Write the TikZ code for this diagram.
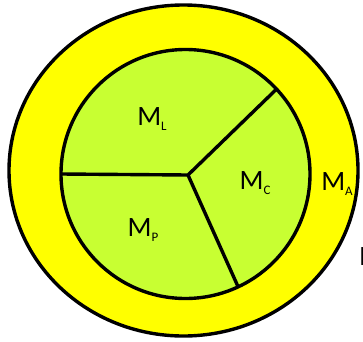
\documentclass[tikz,border=0pt]{standalone}
\usepackage{fontspec}
\setmainfont{Carlito}
\usetikzlibrary{calc}
\definecolor{ringyellow}{RGB}{255,255,0}
\definecolor{corelime}{RGB}{200,255,50}
\newcommand{\massub}[1]{\raisebox{-0.2em}{\fontsize{13}{15}\selectfont #1}}

\begin{document}
\begin{tikzpicture}[x=1pt, y=1pt, line width=3.4pt,
    every node/.style={outer sep=0pt, inner sep=0pt, font=\fontsize{28}{32}\selectfont}]
    \useasboundingbox (0,0) rectangle (363,341);
    \clip (0,0) rectangle (363,341);

    % Outer ring
    \draw[fill=ringyellow] (183.5,170.5) ellipse [x radius=174.5, y radius=165.5];

    % Inner disc
    \coordinate (core) at (185.5,167);
    \draw[fill=corelime] (core) circle [radius=124.5];

    % Dividing lines
    \coordinate (hub) at (188,166);
    \coordinate (westend) at ($(core)+(180:124.5)$);
    \coordinate (northeastend) at ($(core)+(43:124.5)$);
    \coordinate (southend) at ($(core)+(-65:124.5)$);
    \draw (westend) -- (hub) -- (northeastend);
    \draw (hub) -- (southend);

    % Labels
    \node (ml) at (152,222) {M\massub{L}};
    \node (mc) at (255,158) {M\massub{C}};
    \node (mp) at (143,111) {M\massub{P}};
    \node (ma) at (337,157) {M\massub{A}};
    \node[anchor=west] (mcut) at (359,84) {M};
\end{tikzpicture}
\end{document}
